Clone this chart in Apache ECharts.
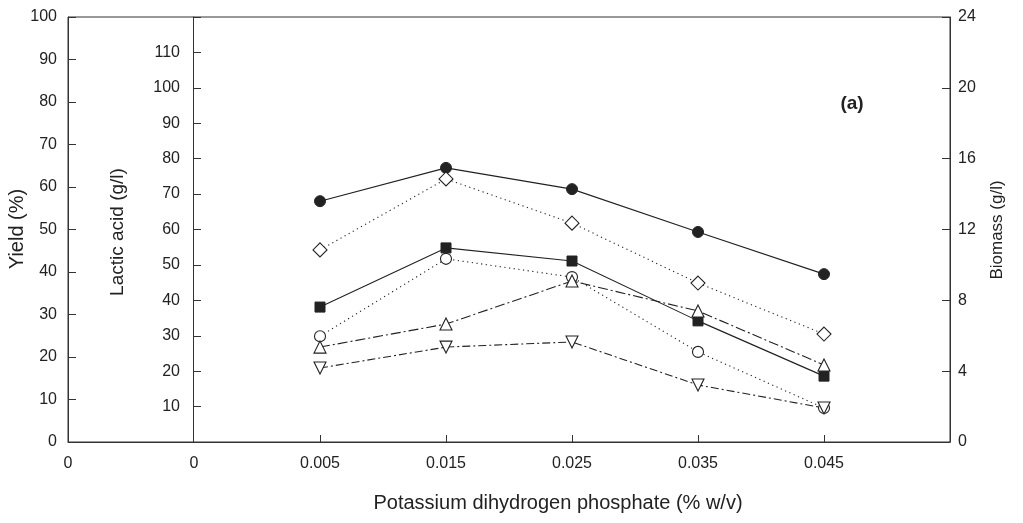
<!DOCTYPE html>
<html><head><meta charset="utf-8">
<script src="https://cdn.jsdelivr.net/npm/echarts@6/dist/echarts.min.js"></script>
<style>html,body{margin:0;padding:0;background:#fff}#c{width:1023px;height:523px}</style>
</head><body><div id="c"></div>
<script>
// x categories (first two are the "0" labels under the two left axes, last is the empty right end)
const categories = ['0', '0', '0.005', '0.015', '0.025', '0.035', '0.045', ''];
// Lactic acid axis (g/l)
const lacticFilledCircle = [null, null, 68.0, 77.4, 71.4, 59.3, 47.4, null];
const lacticFilledSquare = [null, null, 38.1, 54.8, 51.1, 34.2, 18.6, null];
// Yield axis (%)
const yieldDiamond = [null, null, 45.2, 61.9, 51.5, 37.4, 25.4, null];
const yieldOpenCircle = [null, null, 24.9, 43.1, 38.8, 21.2, 8.0, null];
// Biomass axis (g/l)
const biomassTriUp = [null, null, 5.36, 6.66, 9.09, 7.40, 4.35, null];
const biomassTriDown = [null, null, 4.18, 5.36, 5.65, 3.22, 1.92, null];

const FONT = 'Liberation Sans, Arial, sans-serif';
const INK = '#222';
const TICK_FS = 16;
const chart = echarts.init(document.getElementById('c'));

function mk(name, data, yIdx, symbol, filled, lineType, size, rotate) {
  return {
    name, type: 'line', data, yAxisIndex: yIdx, symbol, symbolSize: size,
    symbolRotate: rotate || 0, connectNulls: false,
    lineStyle: { color: INK, width: 1.1, type: lineType },
    itemStyle: filled ? { color: INK, borderColor: INK, borderWidth: 1 }
                      : { color: '#fff', borderColor: INK, borderWidth: 1.1 },
    emphasis: { disabled: true }, animation: false, z: filled ? 3 : 4
  };
}

chart.setOption({
  animation: false,
  textStyle: { fontFamily: FONT },
  grid: { left: 68, right: 73, top: 17, bottom: 81, show: true, borderColor: '#333', borderWidth: 1, backgroundColor: 'transparent' },
  xAxis: {
    type: 'category', data: categories, boundaryGap: false,
    axisLine: { lineStyle: { color: '#333', width: 1 } },
    axisTick: { inside: true, length: 7, lineStyle: { color: '#333' }, interval: (i) => i >= 2 && i <= 6 },
    axisLabel: { color: INK, fontSize: TICK_FS, margin: 14, interval: 0, fontFamily: FONT },
    splitLine: { show: false }
  },
  yAxis: [
    { type: 'value', min: 0, max: 100, interval: 10, position: 'left',
      axisLine: { show: true, lineStyle: { color: '#333' } },
      axisTick: { show: true, inside: true, length: 8, lineStyle: { color: '#333' } },
      axisLabel: { color: INK, fontSize: TICK_FS, margin: 11, fontFamily: FONT },
      splitLine: { show: false } },
    { type: 'value', min: 0, max: 120, interval: 10, position: 'left', offset: -125,
      axisLine: { show: true, onZero: false, lineStyle: { color: '#333' } },
      axisTick: { show: true, inside: true, length: 8, lineStyle: { color: '#333' } },
      axisLabel: { color: INK, fontSize: TICK_FS, margin: 13, fontFamily: FONT,
        formatter: (v) => (v === 0 || v === 120) ? '' : String(v) },
      splitLine: { show: false } },
    { type: 'value', min: 0, max: 24, interval: 4, position: 'right',
      axisLine: { show: true, lineStyle: { color: '#333' } },
      axisTick: { show: true, inside: true, length: 8, lineStyle: { color: '#333' } },
      axisLabel: { color: INK, fontSize: TICK_FS, margin: 8, fontFamily: FONT },
      splitLine: { show: false } }
  ],
  series: [
    mk('Lactic acid A', lacticFilledCircle, 1, 'circle', true, 'solid', 11),
    mk('Yield A', yieldDiamond, 0, 'diamond', false, [1.2, 3.5], 14),
    mk('Lactic acid B', lacticFilledSquare, 1, 'rect', true, 'solid', 10),
    mk('Yield B', yieldOpenCircle, 0, 'circle', false, [1.2, 3.5], 11),
    mk('Biomass A', biomassTriUp, 2, 'triangle', false, [10, 3, 2, 3], 12),
    mk('Biomass B', biomassTriDown, 2, 'triangle', false, [8, 3, 2, 3], 12, 180)
  ],
  graphic: [
    { type: 'text', x: 17, y: 229, rotation: Math.PI / 2,
      style: { text: 'Yield (%)', fontSize: 20, fontFamily: FONT, fill: INK, align: 'center', verticalAlign: 'middle' } },
    { type: 'text', x: 118, y: 232, rotation: Math.PI / 2,
      style: { text: 'Lactic acid (g/l)', fontSize: 19, fontFamily: FONT, fill: INK, align: 'center', verticalAlign: 'middle' } },
    { type: 'text', x: 997, y: 230, rotation: Math.PI / 2,
      style: { text: 'Biomass (g/l)', fontSize: 17, fontFamily: FONT, fill: INK, align: 'center', verticalAlign: 'middle' } },
    { type: 'text', x: 558, y: 503,
      style: { text: 'Potassium dihydrogen phosphate (% w/v)', fontSize: 20, fontFamily: FONT, fill: INK, align: 'center', verticalAlign: 'middle' } },
    { type: 'text', x: 852, y: 104,
      style: { text: '(a)', fontSize: 19, fontWeight: 'bold', fontFamily: FONT, fill: INK, align: 'center', verticalAlign: 'middle' } }
  ]
});
</script></body></html>
